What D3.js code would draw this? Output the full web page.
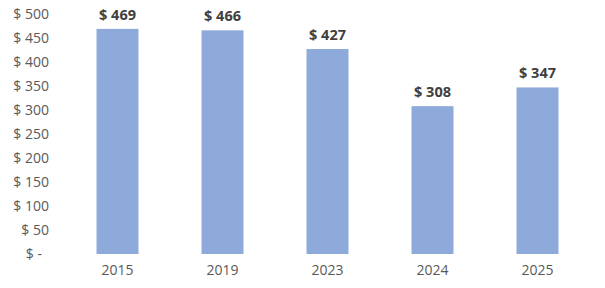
<!DOCTYPE html>
<html>
<head>
<meta charset="utf-8">
<script src="https://cdn.jsdelivr.net/npm/d3@7"></script>
<style>
  body { margin: 0; background: #fff; }
  text { font-family: "Open Sans", sans-serif; }
</style>
</head>
<body>
<svg id="chart" width="605" height="288"></svg>
<script>
var years = ["2015", "2019", "2023", "2024", "2025"];
var prices = [469, 466, 427, 308, 347];
var yTicks = [0, 50, 100, 150, 200, 250, 300, 350, 400, 450, 500];

var svg = d3.select("#chart");

var x = d3.scaleBand()
    .domain(years)
    .range([65, 590])
    .paddingInner(0.6)
    .paddingOuter(0.3);

var y = d3.scaleLinear()
    .domain([0, 500])
    .range([254, 14]);

// y axis labels only, no line
var yAxis = svg.append("g")
    .attr("transform", "translate(49,0)")
    .call(d3.axisLeft(y).tickValues(yTicks).tickSize(0).tickPadding(0)
        .tickFormat(function(d) { return d === 0 ? "$ -" : "$ " + d; }));
yAxis.select(".domain").remove();
yAxis.selectAll("text")
    .attr("fill", "#595959")
    .attr("font-size", "14px")
    .attr("font-family", "Open Sans, sans-serif")
    .attr("dx", function(d) { return d === 0 ? -7 : 0; });

// x axis labels
var xAxis = svg.append("g")
    .attr("transform", "translate(0,254)")
    .call(d3.axisBottom(x).tickSize(0).tickPadding(11));
xAxis.select(".domain").remove();
xAxis.selectAll("text")
    .attr("fill", "#595959")
    .attr("font-size", "14px")
    .attr("font-family", "Open Sans, sans-serif");

// bars
svg.selectAll(".bar")
    .data(prices)
    .enter().append("rect")
    .attr("class", "bar")
    .attr("x", function(d, i) { return x(years[i]); })
    .attr("y", function(d) { return y(d); })
    .attr("width", x.bandwidth())
    .attr("height", function(d) { return y(0) - y(d); })
    .attr("fill", "#8eaadb");

// value labels
svg.selectAll(".val")
    .data(prices)
    .enter().append("text")
    .attr("class", "val")
    .attr("x", function(d, i) { return x(years[i]) + x.bandwidth() / 2; })
    .attr("y", function(d) { return y(d) - 9; })
    .attr("text-anchor", "middle")
    .attr("font-size", "14.5px")
    .attr("font-weight", "bold")
    .attr("fill", "#404040")
    .text(function(d) { return "$ " + d; });
</script>
</body>
</html>
